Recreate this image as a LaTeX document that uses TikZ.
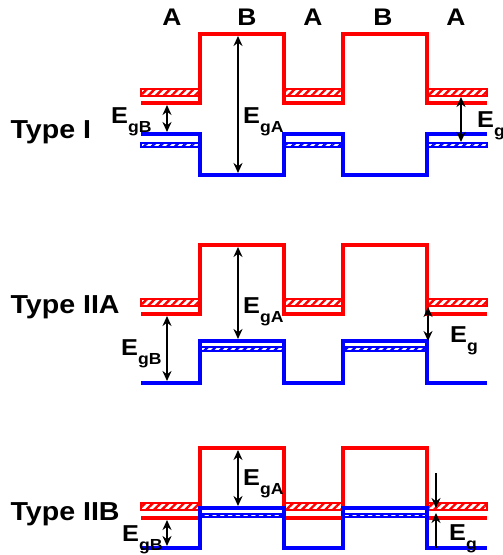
\documentclass[tikz,border=0pt]{standalone}
\usepackage{fontspec}
\setmainfont{Liberation Sans}
\usetikzlibrary{arrows.meta, patterns.meta}
\definecolor{cred}{HTML}{FF0000}
\definecolor{cblue}{HTML}{0000FF}
\newcommand{\wide}[1]{\scalebox{1.1}[1]{#1}}
\newcommand{\Elab}[1]{\wide{E\raisebox{-9pt}{\fontsize{16}{16}\selectfont #1}}}
\tikzset{
  band/.style={line width=3.6pt, line join=miter},
  hatchbar/.style={draw=#1, line width=1.1pt,
    pattern={Lines[angle=45, distance=5.5pt, line width=2.4pt]}, pattern color=#1},
  gaparrow/.style={line width=2.8pt},
  both/.style={gaparrow, {Stealth[length=10pt, width=9pt]}-{Stealth[length=10pt, width=9pt]}},
  tipend/.style={gaparrow, -{Stealth[length=10pt, width=9pt]}},
  layer/.style={font=\bfseries\fontsize{24}{24}\selectfont, anchor=base},
  typelabel/.style={font=\bfseries\fontsize{26}{26}\selectfont, anchor=base west},
  gaplabel/.style={font=\bfseries\fontsize{23}{23}\selectfont, anchor=base west, inner sep=0pt}
}

\begin{document}
\begin{tikzpicture}[x=1pt, y=-1pt]
  \fill[white] (0,0) rectangle (503,555);
  \useasboundingbox (0,0) rectangle (503,555);

  % layer names
  \foreach \n/\x/\t in {a1/172/A, b1/247/B, a2/313/A, b2/383/B, a3/456/A}
    \node[layer] (lbl\n) at (\x,25) {\wide{\t}};

  % ---------- Type I ----------
  \foreach \xa/\xb in {141/199, 285/342, 428/487}{
    \draw[hatchbar=cred] (\xa,89) rectangle (\xb,96);
    \draw[hatchbar=cblue] (\xa,143) rectangle (\xb,147);
  }
  \draw[band, cred] (141,103) -| (200,34) -| (284,103) -| (343,34) -| (427,103) -- (487,103);
  \draw[band, cblue] (141,134) -| (200,175) -| (284,134) -| (343,175) -| (427,134) -- (487,134);
  \node[typelabel] (typeI) at (7,138) {\wide{Type I}};
  \coordinate (oneBt) at (167,105); \coordinate (oneBb) at (167,132);
  \coordinate (oneAt) at (238,36);  \coordinate (oneAb) at (238,173);
  \coordinate (oneGt) at (461,97);  \coordinate (oneGb) at (461,142);
  \draw[both] (oneBt) -- (oneBb);
  \draw[both] (oneAt) -- (oneAb);
  \draw[both] (oneGt) -- (oneGb);
  \node[gaplabel] (oneEB) at (111,123) {\Elab{gB}};
  \node[gaplabel] (oneEA) at (243,123) {\Elab{gA}};
  \node[gaplabel] (oneEG) at (477,127) {\Elab{g}};

  % ---------- Type IIA ----------
  \foreach \xa/\xb in {141/199, 285/342, 428/487}
    \draw[hatchbar=cred] (\xa,299) rectangle (\xb,306);
  \foreach \xa/\xb in {201/283, 344/426}
    \draw[hatchbar=cblue] (\xa,347) rectangle (\xb,351);
  \draw[band, cred] (141,314) -| (200,245) -| (284,314) -| (343,245) -| (427,314) -- (487,314);
  \draw[band, cblue] (141,383) -| (200,341) -| (284,383) -| (343,341) -| (427,383) -- (487,383);
  \node[typelabel] (typeIIA) at (7,313) {\wide{Type IIA}};
  \coordinate (twoBt) at (167,316); \coordinate (twoBb) at (167,381);
  \coordinate (twoAt) at (238,247); \coordinate (twoAb) at (238,339);
  \coordinate (twoGt) at (428,307); \coordinate (twoGb) at (428,341);
  \draw[both] (twoBt) -- (twoBb);
  \draw[both] (twoAt) -- (twoAb);
  \draw[both] (twoGt) -- (twoGb);
  \node[gaplabel] (twoEB) at (121,355) {\Elab{gB}};
  \node[gaplabel] (twoEA) at (243,313) {\Elab{gA}};
  \node[gaplabel] (twoEG) at (450,342) {\Elab{g}};

  % ---------- Type IIB ----------
  \foreach \xa/\xb in {141/199, 285/342, 428/487}
    \draw[hatchbar=cred] (\xa,503) rectangle (\xb,510);
  \foreach \xa/\xb in {201/283, 344/426}
    \draw[hatchbar=cblue] (\xa,514) rectangle (\xb,517);
  \draw[band, cred] (141,518) -| (200,448) -| (284,518) -| (343,448) -| (427,518) -- (487,518);
  \draw[band, cblue] (141,548) -| (200,508) -| (284,548) -| (343,508) -| (427,548) -- (487,548);
  \node[typelabel] (typeIIB) at (7,520) {\wide{Type IIB}};
  \coordinate (thrBt) at (167,520); \coordinate (thrBb) at (167,546);
  \coordinate (thrAt) at (238,450); \coordinate (thrAb) at (238,506);
  \coordinate (thrGu) at (436,473); \coordinate (thrGm) at (436,508);
  \coordinate (thrGd) at (436,548); \coordinate (thrGn) at (436,513);
  \draw[both] (thrBt) -- (thrBb);
  \draw[both] (thrAt) -- (thrAb);
  \draw[tipend] (thrGu) -- (thrGm);
  \draw[tipend] (thrGd) -- (thrGn);
  \node[gaplabel] (thrEB) at (122,541) {\Elab{gB}};
  \node[gaplabel] (thrEA) at (243,485) {\Elab{gA}};
  \node[gaplabel] (thrEG) at (449,540) {\Elab{g}};
\end{tikzpicture}
\end{document}
